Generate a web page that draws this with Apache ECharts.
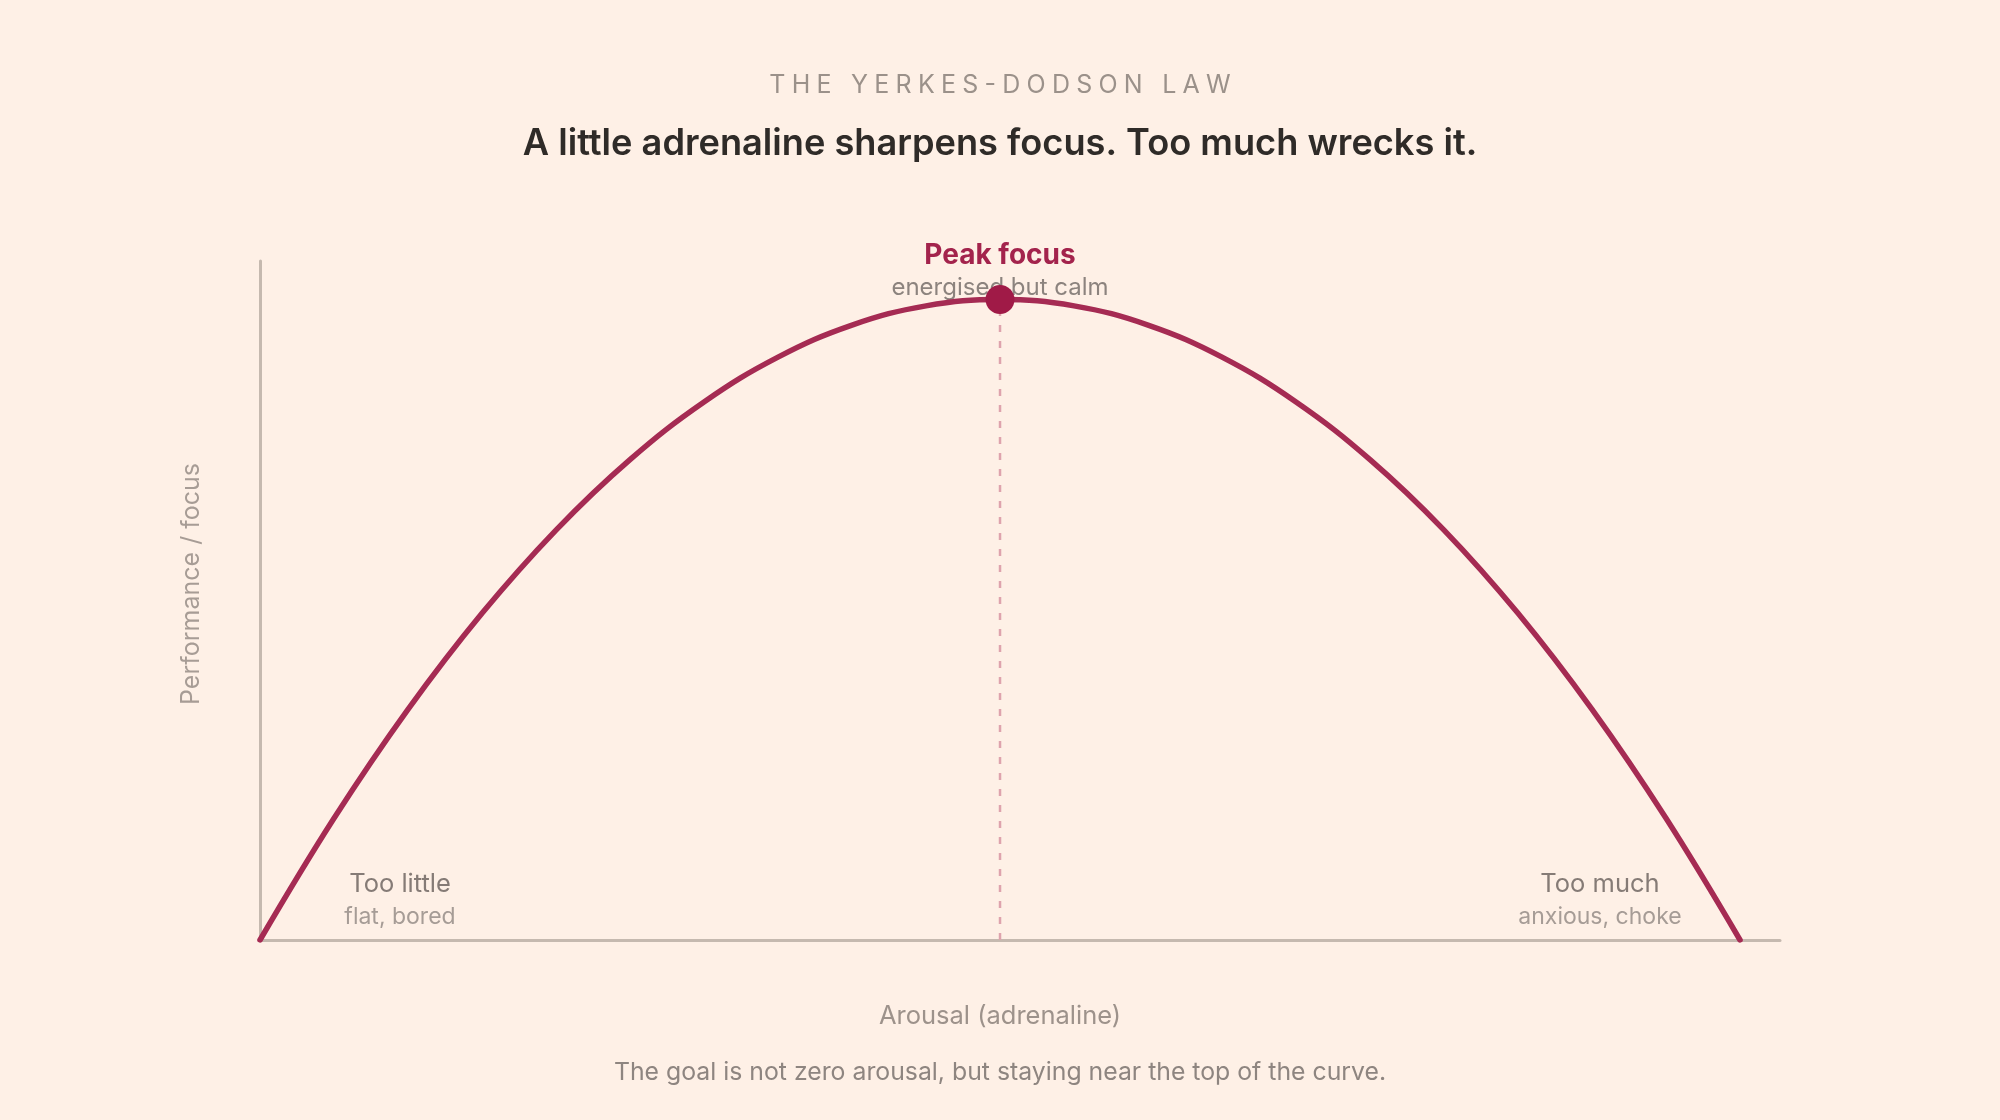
<!DOCTYPE html>
<html>
<head>
<meta charset="utf-8">
<title>The Yerkes-Dodson law</title>
<script src="https://cdn.jsdelivr.net/npm/echarts@6/dist/echarts.min.js"></script>
<style>
  html, body { margin: 0; padding: 0; background: #fef0e6; }
  #chart { width: 2000px; height: 1120px; }
</style>
</head>
<body>
<div id="chart"></div>
<script>
// arousal level (x) and performance (peak = 1)
const arousal = [0, 0.5, 1, 1.5, 2, 2.5, 3, 3.5, 4, 4.5, 5, 5.5, 6, 6.5, 7, 7.5, 8, 8.5, 9, 9.5, 10];
const performance = [0, 0.19, 0.36, 0.51, 0.64, 0.75, 0.84, 0.91, 0.96, 0.99, 1.0, 0.99, 0.96, 0.91, 0.84, 0.75, 0.64, 0.51, 0.36, 0.19, 0];
const peakPoint = [5, 1];
const axisRange = { xMax: 10.27, yMax: 1.06 };

const titleText = "THE YERKES-DODSON LAW";
const subtitleText = "A little adrenaline sharpens focus. Too much wrecks it.";
const footerText = "The goal is not zero arousal, but staying near the top of the curve.";

const FONT = "Inter, 'Noto Sans', sans-serif";
const CURVE = "#a52b53";
const DOT = "#a01a47";
const AXIS = "#c5b9af";

// no letter-spacing in canvas text, so pad the letters with thin spaces
function spaced(str) {
  return str.split(" ").map(w => w.split("").join("\u2005")).join("\u2005 \u2005");
}

const chart = echarts.init(document.getElementById("chart"));

chart.setOption({
  backgroundColor: "#fef0e6",
  animation: false,
  title: [
    {
      text: spaced(titleText),
      left: "center",
      top: 68,
      textStyle: { fontFamily: FONT, fontSize: 25, fontWeight: 400, color: "#9b918a" }
    },
    {
      text: subtitleText,
      left: "center",
      top: 121,
      textStyle: { fontFamily: FONT, fontSize: 36.2, fontWeight: 600, color: "#2f2b28" }
    }
  ],
  grid: { left: 260, right: 220, top: 261, bottom: 180, outerBoundsMode: "none" },
  xAxis: {
    type: "value",
    min: 0,
    max: axisRange.xMax,
    name: "Arousal (adrenaline)",
    nameLocation: "middle",
    nameGap: 63,
    // name sits on x = 1000, a bit left of the grid centre
    nameTextStyle: { fontFamily: FONT, fontSize: 25.5, color: "#9d928b", padding: [0, 40, 0, 0] },
    axisLine: { show: true, lineStyle: { color: AXIS, width: 3 } },
    axisTick: { show: false },
    axisLabel: { show: false },
    splitLine: { show: false }
  },
  yAxis: {
    type: "value",
    min: 0,
    max: axisRange.yMax,
    axisLine: { show: true, lineStyle: { color: AXIS, width: 3 } },
    axisTick: { show: false },
    axisLabel: { show: false },
    splitLine: { show: false }
  },
  graphic: [
    {
      type: "text", x: 191, y: 584, rotation: Math.PI / 2, z: 0,
      style: { text: "Performance / focus", font: "400 25px " + FONT, fill: "#a79c95", align: "center", verticalAlign: "middle" }
    },
    {
      type: "text", x: 1000, y: 1073, z: 0,
      style: { text: footerText, font: "400 24.8px " + FONT, fill: "#8e8580", align: "center", verticalAlign: "middle" }
    },
    // zone captions
    {
      type: "text", x: 400, y: 884, z: 0,
      style: { text: "Too little", font: "400 25.5px " + FONT, fill: "#857b76", align: "center", verticalAlign: "middle" }
    },
    {
      type: "text", x: 400, y: 917, z: 0,
      style: { text: "flat, bored", font: "400 23px " + FONT, fill: "#a69c96", align: "center", verticalAlign: "middle" }
    },
    {
      type: "text", x: 1600, y: 884, z: 0,
      style: { text: "Too much", font: "400 25.5px " + FONT, fill: "#857b76", align: "center", verticalAlign: "middle" }
    },
    {
      type: "text", x: 1600, y: 917, z: 0,
      style: { text: "anxious, choke", font: "400 23px " + FONT, fill: "#a69c96", align: "center", verticalAlign: "middle" }
    },
    // peak caption
    {
      type: "text", x: 1000, y: 256, z: 0,
      style: { text: "Peak focus", font: "700 28px " + FONT, fill: "#a3234c", align: "center", verticalAlign: "middle" }
    },
    {
      type: "text", x: 1000, y: 288, z: 0,
      style: { text: "energised but calm", font: "400 24px " + FONT, fill: "#8c837e", align: "center", verticalAlign: "middle" }
    }
  ],
  series: [
    {
      name: "guide",
      type: "line",
      z: 3,
      data: [[peakPoint[0], 0], peakPoint],
      showSymbol: false,
      silent: true,
      lineStyle: { color: "#dea3ad", width: 2.5, type: [7, 9] }
    },
    {
      name: "performance",
      type: "line",
      z: 4,
      data: arousal.map((x, i) => [x, performance[i]]),
      smooth: 0.4,
      showSymbol: false,
      lineStyle: { color: CURVE, width: 5.5, cap: "round" }
    },
    {
      name: "peak",
      type: "scatter",
      z: 5,
      data: [peakPoint],
      symbolSize: 29,
      itemStyle: { color: DOT, opacity: 1 }
    }
  ]
});
</script>
</body>
</html>
